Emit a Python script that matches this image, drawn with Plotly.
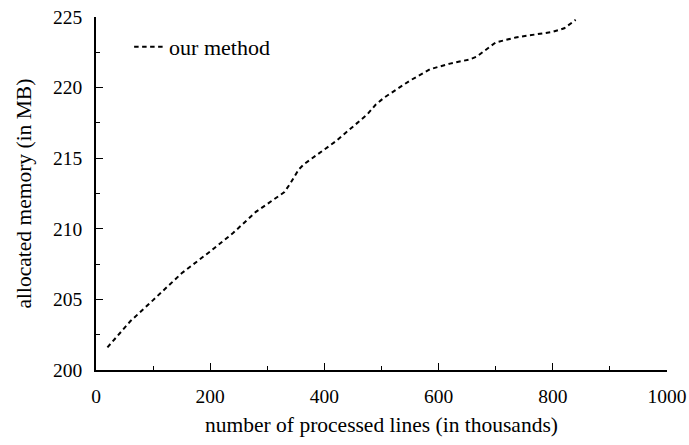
import plotly.graph_objects as go

lines_k = [20, 60, 100, 150, 200, 240, 280, 330, 340, 355, 365, 400, 420, 475, 490, 505,
           550, 585, 620, 655, 667, 700, 735, 800, 820, 840]
memory_mb = [201.6, 203.45, 204.95, 206.85, 208.4, 209.7, 211.2, 212.6, 213.2, 214.2, 214.6,
             215.6, 216.2, 218.1, 218.8, 219.3, 220.5, 221.3, 221.7, 222.0, 222.2, 223.2,
             223.55, 223.95, 224.2, 224.8]
series_name = "our method"
x_title = "number of processed lines (in thousands)"
y_title = "allocated memory (in MB)"
x_ticks = [0, 200, 400, 600, 800, 1000]
y_ticks = [200, 205, 210, 215, 220, 225]

FONT = "Liberation Serif, Times New Roman, serif"

fig = go.Figure()
fig.add_trace(go.Scatter(x=lines_k, y=memory_mb, mode="lines", name=series_name,
                         line=dict(color="black", width=2, dash="4.5px,3.5px")))

fig.update_layout(
    width=689, height=445,
    margin=dict(l=96, r=22, t=17, b=75),
    paper_bgcolor="white", plot_bgcolor="white",
    font=dict(family=FONT, size=19.5, color="black"),
    showlegend=True,
    legend=dict(x=0.058, y=0.915, xanchor="left", yanchor="middle",
                bgcolor="rgba(0,0,0,0)", font=dict(size=22, family=FONT),
                itemwidth=30),
    xaxis=dict(range=[0, 1000], tickvals=x_ticks, ticks="inside", ticklen=7, tickwidth=1.3,
               tickcolor="black", showline=True, linecolor="black", linewidth=1.5,
               showgrid=False, zeroline=False, ticklabelstandoff=8, automargin=False,
               tickfont=dict(size=19.5),
               minor=dict(dtick=100, ticks="inside", ticklen=4, tickcolor="black", tickwidth=1.3, showgrid=False),
               title=dict(text=x_title, standoff=11, font=dict(size=21.5))),
    yaxis=dict(range=[200, 225], tickvals=y_ticks, ticks="inside", ticklen=7, tickwidth=1.3,
               tickcolor="black", showline=True, linecolor="black", linewidth=1.5,
               showgrid=False, zeroline=False, ticklabelstandoff=8, automargin=False,
               tickfont=dict(size=19.5),
               minor=dict(dtick=2.5, ticks="inside", ticklen=4, tickcolor="black", tickwidth=1.3, showgrid=False)),
)
fig.add_annotation(text=y_title, xref="paper", yref="paper", x=-(96 - 23) / 571, y=0.5,
                   xanchor="center", yanchor="middle", textangle=-90, showarrow=False,
                   font=dict(size=21.5, family=FONT))

fig.write_html("out.html", config={"displayModeBar": False},
               post_script="document.body.style.margin='0';document.body.style.overflow='hidden';")
